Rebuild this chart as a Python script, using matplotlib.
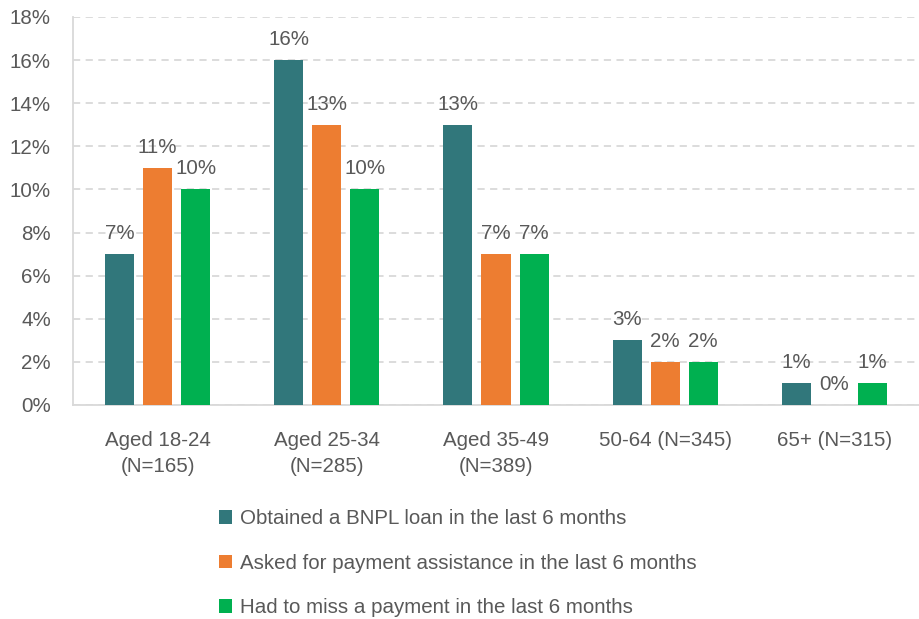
import matplotlib
matplotlib.use("Agg")
import matplotlib.pyplot as plt
import numpy as np

categories = ["Aged 18-24\n(N=165)", "Aged 25-34\n(N=285)", "Aged 35-49\n(N=389)",
              "50-64 (N=345)", "65+ (N=315)"]
series_names = ["Obtained a BNPL loan in the last 6 months",
                "Asked for payment assistance in the last 6 months",
                "Had to miss a payment in the last 6 months"]
obtained = [7, 16, 13, 3, 1]
assistance = [11, 13, 7, 2, 0]
missed = [10, 10, 7, 2, 1]
yticks = [0, 2, 4, 6, 8, 10, 12, 14, 16, 18]

colors = ["#31777B", "#ED7D31", "#00B050"]
txt = "#595959"
grid = "#D9D9D9"
fs = 14.8

plt.rcParams['font.family'] = ['Liberation Sans', 'DejaVu Sans']

fig = plt.figure(figsize=(9.19, 6.19), dpi=100)
ax = fig.add_axes([73 / 919, 1 - 405 / 619, 1 - 73 / 919, (405 - 17) / 619])

x = np.arange(len(categories))
width = 0.172
step = 0.225
for i, (vals, name) in enumerate(zip([obtained, assistance, missed], series_names)):
    pos = x + (i - 1) * step
    bars = ax.bar(pos, vals, width, color=colors[i], label=name, zorder=3)
    for b, v in zip(bars, vals):
        ax.annotate("{}%".format(v), (b.get_x() + b.get_width() / 2, v),
                    xytext=(0, 8), textcoords="offset points",
                    ha="center", va="bottom", fontsize=fs, color=txt)

ax.set_xlim(-0.5, len(categories) - 0.5)
ax.set_ylim(0, 18)
ax.set_yticks(yticks)
ax.set_yticklabels(["{}%".format(t) for t in yticks])
ax.set_xticks(x)
ax.set_xticklabels(categories, linespacing=1.45)
ax.tick_params(axis="both", length=0, labelsize=fs, colors=txt)
ax.tick_params(axis="y", pad=16)
ax.tick_params(axis="x", pad=19)

ax.yaxis.grid(True, color=grid, linestyle=(0, (4, 3)), linewidth=1.3, zorder=0)
for s in ["top", "right"]:
    ax.spines[s].set_visible(False)
ax.spines["left"].set_color(grid)
ax.spines["bottom"].set_color(grid)
ax.spines["bottom"].set_linewidth(1.3)
ax.spines["left"].set_linewidth(1.3)

fig.legend(loc="upper left", bbox_to_anchor=(219 / 919, 1 - 509 / 619),
           frameon=False, fontsize=fs, labelcolor=txt,
           handlelength=0.65, handleheight=0.65, handletextpad=0.35,
           labelspacing=1.25, borderpad=0, borderaxespad=0)

fig.savefig("out.png", dpi=100)
